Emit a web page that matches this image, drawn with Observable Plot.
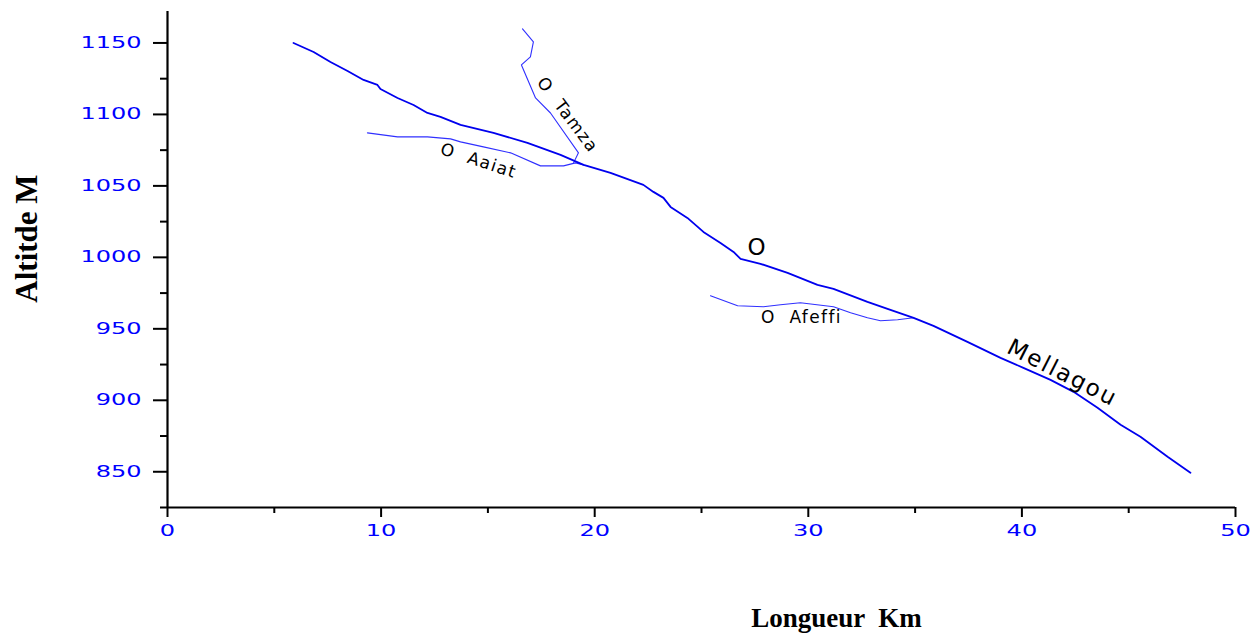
<!DOCTYPE html>
<html>
<head>
<meta charset="utf-8">
<script src="https://cdn.jsdelivr.net/npm/d3@7"></script>
<script src="https://cdn.jsdelivr.net/npm/@observablehq/plot@0.6"></script>
<style>
  html, body { margin: 0; padding: 0; background: #ffffff; }
  #chart svg text { white-space: pre; }
  .lbl text { letter-spacing: 1.4px; }
  .lblbig text { letter-spacing: 2px; }
</style>
</head>
<body>
<div id="chart"></div>
<script>
// ---- Data (km, m) ----
const mellagouX = [5.90, 6.84, 7.63, 8.43, 9.18, 9.83, 9.97, 10.77, 11.52, 12.17, 12.78, 13.72, 15.26, 16.85, 18.40, 19.48, 20.74, 22.28, 22.75, 23.22, 23.55, 24.34, 25.09, 25.89, 26.50, 26.83, 27.76, 29.03, 30.43, 31.18, 32.77, 33.71, 34.93, 35.86, 37.45, 39.00, 40.07, 41.34, 42.42, 43.54, 44.62, 45.55, 46.82, 47.89];
const mellagouY = [1150.0, 1143.7, 1136.7, 1130.4, 1124.1, 1120.6, 1117.8, 1111.5, 1106.6, 1101.0, 1098.3, 1092.7, 1087.1, 1080.1, 1071.7, 1064.7, 1059.1, 1050.7, 1045.8, 1041.6, 1035.3, 1027.6, 1017.8, 1010.1, 1003.8, 998.9, 995.5, 989.2, 980.8, 978.0, 968.9, 964.0, 957.7, 952.1, 940.9, 929.7, 922.7, 914.3, 905.9, 894.8, 882.9, 874.5, 860.5, 849.3];

const tamzaX = [16.62, 17.13, 16.99, 16.57, 17.23, 17.93, 19.24, 19.01];
const tamzaY = [1159.8, 1150.7, 1140.2, 1134.6, 1111.5, 1101.0, 1073.1, 1066.1];

const aaiatX = [9.36, 10.77, 12.17, 13.25, 13.72, 14.79, 16.06, 17.46, 18.54, 19.10, 19.48];
const aaiatY = [1087.1, 1084.3, 1084.3, 1082.9, 1080.8, 1077.3, 1073.1, 1064.0, 1064.0, 1066.1, 1064.7];

const afeffiX = [25.42, 26.69, 27.90, 28.70, 29.63, 31.18, 31.98, 32.77, 33.38, 34.18, 34.93];
const afeffiY = [973.1, 966.1, 965.4, 966.8, 968.2, 965.4, 961.2, 957.7, 955.6, 956.3, 957.7];

// river name annotations
const labelText  = ["O  Tamza", "O  Aaiat", "O  Afeffi"];
const labelX     = [18.73, 14.56, 29.68];
const labelY     = [1099.6, 1067.5, 957.7];
const labelAngle = [53, 18, 0];

const mainLabelText  = ["O", "Mellagou"];
const mainLabelX     = [27.62, 41.90];
const mainLabelY     = [1006.6, 919.2];
const mainLabelAngle = [0, 27];

// ticks
const xMajor = [0, 10, 20, 30, 40, 50];
const xMinor = [5, 15, 25, 35, 45];
const yMajor = [850, 900, 950, 1000, 1050, 1100, 1150];
const yMinor = [825, 875, 925, 975, 1025, 1075, 1125];

const xTitle = "Longueur  Km";
const yTitle = "Altitde M";

// ---- build tables ----
const toRows = (xs, ys) => xs.map((x, i) => ({x, y: ys[i]}));
const mellagou = toRows(mellagouX, mellagouY);
const tamza = toRows(tamzaX, tamzaY);
const aaiat = toRows(aaiatX, aaiatY);
const afeffi = toRows(afeffiX, afeffiY);
const labels = labelText.map((t, i) => ({t, x: labelX[i], y: labelY[i], r: labelAngle[i]}));
const mainLabels = mainLabelText.map((t, i) => ({t, x: mainLabelX[i], y: mainLabelY[i], r: mainLabelAngle[i]}));

const blue = "#0000ff";
const tickFont = "DejaVu Sans";
const fmt = d => String(d);

const chart = Plot.plot({
  width: 1254,
  height: 635,
  marginLeft: 167,
  marginRight: 19,
  marginTop: 11,
  marginBottom: 128,
  style: {background: "#ffffff", overflow: "visible"},
  x: {domain: [0, 50]},
  y: {domain: [825, 1172]},
  marks: [
    Plot.axisX({ticks: xMajor, tickFormat: fmt, tickSize: 10, tickPadding: 8, strokeWidth: 2, stroke: "black", fill: blue, fontSize: 15, fontFamily: tickFont, label: null}),
    Plot.axisX({ticks: xMinor, tickSize: 6, strokeWidth: 2, stroke: "black", tickFormat: () => "", label: null}),
    Plot.axisY({ticks: yMajor, tickFormat: fmt, tickSize: 14, tickPadding: 12, strokeWidth: 2, stroke: "black", fill: blue, fontSize: 15, fontFamily: tickFont, label: null}),
    Plot.axisY({ticks: yMinor, tickSize: 7, strokeWidth: 2, stroke: "black", tickFormat: () => "", label: null}),
    Plot.ruleX([0], {strokeWidth: 2.2, stroke: "black"}),
    Plot.ruleY([825], {strokeWidth: 2.2, stroke: "black"}),
    Plot.line(aaiat, {x: "x", y: "y", stroke: "#3030ff", strokeWidth: 1.1}),
    Plot.line(tamza, {x: "x", y: "y", stroke: "#3030ff", strokeWidth: 1.1}),
    Plot.line(afeffi, {x: "x", y: "y", stroke: "#3030ff", strokeWidth: 1.1}),
    Plot.line(mellagou, {x: "x", y: "y", stroke: "#0000ee", strokeWidth: 1.8}),
    Plot.text(labels, {x: "x", y: "y", text: "t", rotate: "r", fontSize: 17, fontFamily: "DejaVu Sans", fill: "black", className: "lbl"}),
    Plot.text(mainLabels, {x: "x", y: "y", text: "t", rotate: "r", fontSize: 23, fontFamily: "DejaVu Sans", fill: "black", className: "lblbig"}),
    Plot.text([xTitle], {text: d => d, frameAnchor: "bottom", textAnchor: "middle", lineAnchor: "middle", dx: 135, dy: 111, fontSize: 27, fontWeight: "bold", fontFamily: "Liberation Serif", fill: "black"}),
    Plot.text([yTitle], {text: d => d, frameAnchor: "left", textAnchor: "middle", lineAnchor: "middle", dx: -140, dy: -21, rotate: -90, fontSize: 31, fontWeight: "bold", fontFamily: "Liberation Serif", fill: "black"})
  ]
});

document.getElementById("chart").appendChild(chart);

// widen the tick label glyphs like the original bitmap font
chart.querySelectorAll('g[aria-label$="tick label"] text').forEach(t => {
  if (!t.textContent) return;
  const w = t.getComputedTextLength();
  t.setAttribute("lengthAdjust", "spacingAndGlyphs");
  t.setAttribute("textLength", (w * 1.6).toFixed(1));
});
</script>
</body>
</html>
